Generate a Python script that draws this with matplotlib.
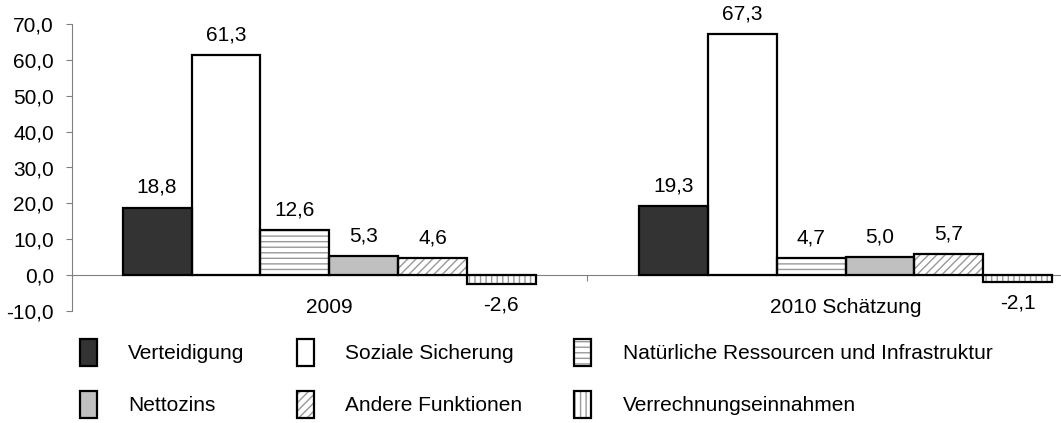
import matplotlib
matplotlib.use("Agg")
import matplotlib.pyplot as plt
from matplotlib.patches import Patch
from matplotlib.legend_handler import HandlerTuple
from matplotlib.ticker import FuncFormatter

plt.rcParams['font.family'] = ['Liberation Sans', 'DejaVu Sans']
plt.rcParams['hatch.linewidth'] = 1.0

# Daten
jahre = ["2009", "2010 Schätzung"]
kategorien = ["Verteidigung", "Soziale Sicherung", "Natürliche Ressourcen und Infrastruktur",
              "Nettozins", "Andere Funktionen", "Verrechnungseinnahmen"]
werte_2009 = [18.8, 61.3, 12.6, 5.3, 4.6, -2.6]
werte_2010 = [19.3, 67.3, 4.7, 5.0, 5.7, -2.1]

# Stil je Kategorie: (Füllfarbe, Schraffur)
stile = [("#333333", None), ("white", None), ("white", "---"),
         ("#c0c0c0", None), ("white", "////"), ("white", "|||")]
SCHRAFF_FARBE = "#999999"
ACHSE_FARBE = "#808080"
FS = 15

fig = plt.figure(figsize=(10.61, 4.23), dpi=100)
ax = fig.add_axes([72 / 1061, (423 - 310.7) / 423, (1061 - 72) / 1061, (310.7 - 24.3) / 423])

breite = 0.1333
x = range(len(jahre))
handles = []
for i, name in enumerate(kategorien):
    farbe, hatch = stile[i]
    vals = [werte_2009[i], werte_2010[i]]
    pos = [xx + (i - 2.5) * breite for xx in x]
    # Füllung + Schraffur (grau), dann schwarzer Rahmen
    ax.bar(pos, vals, breite, color=farbe, edgecolor=SCHRAFF_FARBE if hatch else farbe,
           hatch=hatch, linewidth=0, zorder=2)
    ax.bar(pos, vals, breite, fill=False, edgecolor="black", linewidth=1.6, zorder=3)
    for p, v in zip(pos, vals):
        ax.annotate(f"{v:.1f}".replace(".", ","), (p, v),
                    xytext=(0, 14.5 if v >= 0 else -15), textcoords="offset points",
                    ha="center", va="center", fontsize=FS)
    h1 = Patch(facecolor=farbe, edgecolor=SCHRAFF_FARBE if hatch else farbe, hatch=hatch, linewidth=0)
    h2 = Patch(fill=False, edgecolor="black", linewidth=1.6)
    handles.append((h1, h2))

ax.set_ylim(-10, 70)
ax.set_yticks(range(-10, 71, 10))
ax.yaxis.set_major_formatter(FuncFormatter(lambda v, _: f"{v:.1f}".replace(".", ",")))
ax.set_xlim(-0.498, 1.417)

# Achsen
for s in ["top", "right"]:
    ax.spines[s].set_visible(False)
ax.spines["left"].set_color(ACHSE_FARBE)
ax.spines["bottom"].set_position(("data", 0))
ax.spines["bottom"].set_color(ACHSE_FARBE)
ax.tick_params(axis="y", colors=ACHSE_FARBE, labelcolor="black", labelsize=FS,
               length=4, pad=9, direction="out")

ax.set_xticks([0.5])
ax.set_xticklabels([""])
ax.tick_params(axis="x", which="major", colors=ACHSE_FARBE, length=4.3, direction="out")
ax.set_xticks(list(x), minor=True)
ax.set_xticklabels(jahre, minor=True)
ax.tick_params(axis="x", which="minor", length=0, pad=16.3, labelsize=FS, labelcolor="black")

# Legende (zeilenweise angeordnet)
reihenfolge = [0, 3, 1, 4, 2, 5]
leg = fig.legend([handles[k] for k in reihenfolge], [kategorien[k] for k in reihenfolge],
                 ncol=3, loc="upper left", bbox_to_anchor=(80 / 1061, (423 - 339) / 423),
                 frameon=False, fontsize=FS, handlelength=0.82, handleheight=1.6,
                 handletextpad=1.5, labelspacing=1.2, columnspacing=2.5,
                 borderpad=0, borderaxespad=0,
                 handler_map={tuple: HandlerTuple(ndivide=1, pad=0)})

fig.savefig("out.png", dpi=100)
